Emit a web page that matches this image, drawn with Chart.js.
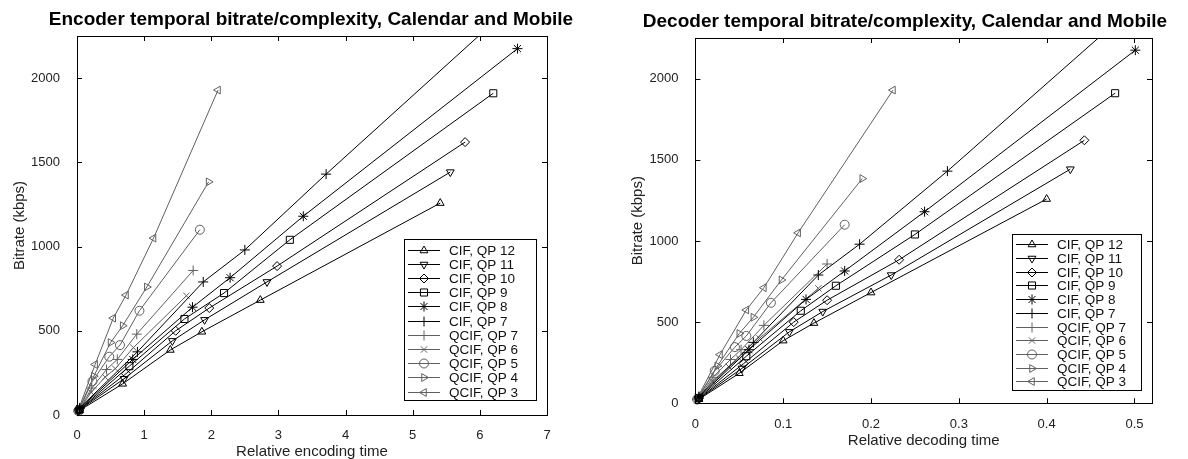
<!DOCTYPE html>
<html>
<head>
<meta charset="utf-8">
<script src="https://cdn.jsdelivr.net/npm/chart.js@4.4.1/dist/chart.umd.min.js"></script>
<style>
  html, body { margin: 0; padding: 0; background: #fff; }
  body { width: 1188px; height: 459px; position: relative; overflow: hidden; }
  canvas { position: absolute; top: 0; }
  #enc { left: 0; }
  #dec { left: 594px; }
</style>
</head>
<body>
<canvas id="enc" width="594" height="459"></canvas>
<canvas id="dec" width="594" height="459"></canvas>
<script>
// series, one row per curve (temporal levels from lowest frame rate to full)
const seriesLabels = ["CIF, QP 12", "CIF, QP 11", "CIF, QP 10", "CIF, QP 9", "CIF, QP 8", "CIF, QP 7",
  "QCIF, QP 7", "QCIF, QP 6", "QCIF, QP 5", "QCIF, QP 4", "QCIF, QP 3"];

// bitrate in kbps, same encodings in both plots
const bitrate = [
  [25, 185, 386, 494, 682, 1258],
  [28, 215, 440, 565, 790, 1442],
  [30, 245, 500, 635, 884, 1620],
  [33, 290, 570, 724, 1040, 1910],
  [38, 330, 640, 815, 1180, 2175],
  [42, 375, 790, 980, 1430, 2780],
  [22, 160, 270, 330, 480, 858],
  [20, 135, 225, 275, 400, 708],
  [24, 200, 346, 415, 619, 1100],
  [26, 230, 430, 530, 760, 1384],
  [30, 300, 575, 712, 1050, 1929]
];

// relative encoding time
const encTime = [
  [0.03, 0.68, 1.39, 1.86, 2.73, 5.41],
  [0.03, 0.70, 1.42, 1.90, 2.83, 5.56],
  [0.03, 0.73, 1.47, 1.97, 2.98, 5.78],
  [0.04, 0.78, 1.60, 2.19, 3.17, 6.20],
  [0.04, 0.83, 1.72, 2.28, 3.37, 6.56],
  [0.04, 0.90, 1.88, 2.50, 3.71, 7.45],
  [0.02, 0.22, 0.44, 0.60, 0.89, 1.73],
  [0.02, 0.21, 0.42, 0.57, 0.84, 1.63],
  [0.02, 0.23, 0.48, 0.64, 0.93, 1.83],
  [0.02, 0.25, 0.50, 0.68, 1.04, 1.96],
  [0.02, 0.27, 0.54, 0.73, 1.14, 2.10]
];

// relative decoding time
const decTime = [
  [0.004, 0.050, 0.100, 0.135, 0.200, 0.400],
  [0.004, 0.053, 0.107, 0.145, 0.223, 0.427],
  [0.004, 0.055, 0.112, 0.150, 0.232, 0.443],
  [0.004, 0.058, 0.120, 0.160, 0.250, 0.478],
  [0.004, 0.061, 0.126, 0.170, 0.261, 0.501],
  [0.004, 0.066, 0.140, 0.187, 0.287, 0.570],
  [0.002, 0.020, 0.040, 0.052, 0.078, 0.150],
  [0.002, 0.019, 0.038, 0.050, 0.073, 0.140],
  [0.002, 0.022, 0.045, 0.058, 0.086, 0.170],
  [0.002, 0.025, 0.050, 0.066, 0.098, 0.190],
  [0.002, 0.028, 0.058, 0.078, 0.117, 0.225]
];

const encTicks = [0, 1, 2, 3, 4, 5, 6, 7];
const decTicks = [0, 0.1, 0.2, 0.3, 0.4, 0.5];
const rateTicks = [0, 500, 1000, 1500, 2000];

// marker styles (matlab-ish)
const markers = ["triangle", "triangle", "rectRot", "rect", "star", "cross", "cross", "crossRot", "circle", "triangle", "triangle"];
const rotations = [0, 180, 0, 0, 0, 0, 0, 0, 0, 90, 270];
const radii = [4.5, 4.5, 4.5, 5, 5, 5, 5, 4.5, 4.5, 4.5, 4.5];
const colors = ["#000", "#000", "#000", "#000", "#000", "#000", "#606060", "#606060", "#606060", "#606060", "#606060"];

const FONT = '"Liberation Sans", Arial, sans-serif';

// box round the plot with inward ticks on all sides
const frame = {
  id: "frame",
  afterDatasetsDraw(chart) {
    const { ctx, chartArea: a, scales: { x, y } } = chart;
    ctx.save();
    ctx.strokeStyle = "#000";
    ctx.lineWidth = 1;
    ctx.strokeRect(Math.round(a.left) + 0.5, Math.round(a.top) + 0.5, Math.round(a.right - a.left), Math.round(a.bottom - a.top));
    ctx.beginPath();
    x.ticks.forEach(t => {
      const px = Math.round(x.getPixelForValue(t.value)) + 0.5;
      ctx.moveTo(px, a.bottom); ctx.lineTo(px, a.bottom - 5);
      ctx.moveTo(px, a.top); ctx.lineTo(px, a.top + 5);
    });
    y.ticks.forEach(t => {
      const py = Math.round(y.getPixelForValue(t.value)) + 0.5;
      ctx.moveTo(a.left, py); ctx.lineTo(a.left + 5, py);
      ctx.moveTo(a.right, py); ctx.lineTo(a.right - 5, py);
    });
    ctx.stroke();
    ctx.restore();
  }
};

// title centred where the original had it
const plotTitle = {
  id: "plotTitle",
  afterDraw(chart, args, opts) {
    const ctx = chart.ctx;
    ctx.save();
    ctx.font = "bold 19px " + FONT;
    ctx.fillStyle = "#000";
    ctx.textAlign = "center";
    ctx.textBaseline = "middle";
    ctx.fillText(opts.text, opts.x, opts.y);
    ctx.restore();
  }
};

// legend box inside the plot, bottom right
const boxLegend = {
  id: "boxLegend",
  afterDraw(chart, args, opts) {
    const { ctx, chartArea: a } = chart;
    const sets = chart.data.datasets;
    const right = a.right - opts.marginRight;
    const bottom = a.bottom - opts.marginBottom;
    const left = right - opts.width;
    const top = bottom - opts.height;
    ctx.save();
    ctx.fillStyle = "#fff";
    ctx.fillRect(left, top, opts.width, opts.height);
    ctx.strokeStyle = "#000";
    ctx.lineWidth = 1;
    ctx.strokeRect(Math.round(left) + 0.5, Math.round(top) + 0.5, Math.round(opts.width), Math.round(opts.height));
    ctx.font = "13.5px " + FONT;
    ctx.textBaseline = "middle";
    ctx.textAlign = "left";
    sets.forEach((ds, i) => {
      const cy = Math.round(top + opts.firstRow + i * opts.rowH) + 0.5;
      ctx.strokeStyle = ds.borderColor;
      ctx.lineWidth = 1;
      ctx.beginPath();
      ctx.moveTo(left + 4, cy);
      ctx.lineTo(left + 36, cy);
      ctx.stroke();
      ctx.fillStyle = "rgba(0,0,0,0)";
      Chart.helpers.drawPoint(ctx, {
        pointStyle: ds.pointStyle, rotation: ds.pointRotation,
        radius: ds.pointRadius, borderWidth: 1
      }, left + 20, cy);
      ctx.fillStyle = "#111";
      ctx.fillText(ds.label, left + 45, cy + 0.5);
    });
    ctx.restore();
  }
};

function makeChart(id, times, cfg) {
  const datasets = seriesLabels.map((lab, i) => ({
    label: lab,
    data: times[i].map((t, j) => ({ x: t, y: bitrate[i][j] })),
    showLine: true,
    borderColor: colors[i],
    backgroundColor: "rgba(0,0,0,0)",
    borderWidth: 1,
    pointStyle: markers[i],
    pointRotation: rotations[i],
    pointRadius: radii[i],
    pointBorderWidth: 1,
    pointBorderColor: colors[i],
    pointBackgroundColor: "rgba(0,0,0,0)",
    clip: { left: 8, bottom: 8, top: 0, right: 0 }
  }));

  const tickFont = { family: FONT, size: 13 };
  const titleFont = { family: FONT, size: 15, lineHeight: 1 };

  return new Chart(document.getElementById(id), {
    type: "scatter",
    data: { datasets },
    options: {
      responsive: false,
      animation: false,
      devicePixelRatio: 1,
      layout: { padding: { top: cfg.top, right: cfg.padRight, bottom: 0, left: 0 } },
      scales: {
        x: {
          type: "linear",
          min: 0,
          max: cfg.xMax,
          afterBuildTicks: s => { s.ticks = cfg.xTicks.map(v => ({ value: v })); },
          afterFit: s => { s.height = cfg.xAxisH; },
          ticks: { callback: v => String(v), font: tickFont, color: "#222", padding: 5, maxRotation: 0, autoSkip: false },
          grid: { display: false },
          border: { display: false },
          title: { display: true, text: cfg.xTitle, font: titleFont, color: "#222", padding: { top: 0, bottom: cfg.xTitlePad } }
        },
        y: {
          type: "linear",
          min: 0,
          max: 2250,
          afterBuildTicks: s => { s.ticks = rateTicks.map(v => ({ value: v })); },
          afterFit: s => { s.width = cfg.yAxisW; },
          ticks: { callback: v => String(v), font: tickFont, color: "#222", padding: 9 },
          grid: { display: false },
          border: { display: false },
          title: { display: true, text: "Bitrate (kbps)", font: titleFont, color: "#222", padding: { top: cfg.yTitlePad, bottom: 0 } }
        }
      },
      plugins: {
        legend: { display: false },
        tooltip: { enabled: false },
        plotTitle: { text: cfg.title, x: cfg.titleX, y: cfg.titleY },
        boxLegend: cfg.legend
      }
    },
    plugins: [frame, plotTitle, boxLegend]
  });
}

makeChart("enc", encTime, {
  title: "Encoder temporal bitrate/complexity, Calendar and Mobile",
  titleX: 311, titleY: 20,
  xTitle: "Relative encoding time",
  xMax: 7, xTicks: encTicks,
  top: 36, padRight: 47, xAxisH: 44, yAxisW: 77,
  xTitlePad: 0, yTitlePad: 12.5,
  legend: { width: 132, height: 161, marginRight: 11, marginBottom: 15, firstRow: 10.5, rowH: 14.2 }
});

makeChart("dec", decTime, {
  title: "Decoder temporal bitrate/complexity, Calendar and Mobile",
  titleX: 311, titleY: 22,
  xTitle: "Relative decoding time",
  xMax: 0.52, xTicks: decTicks,
  top: 38, padRight: 36, xAxisH: 55.7, yAxisW: 101.4,
  xTitlePad: 10.5, yTitlePad: 36.2,
  legend: { width: 129, height: 156, marginRight: 11, marginBottom: 13, firstRow: 10, rowH: 13.7 }
});
</script>
</body>
</html>
